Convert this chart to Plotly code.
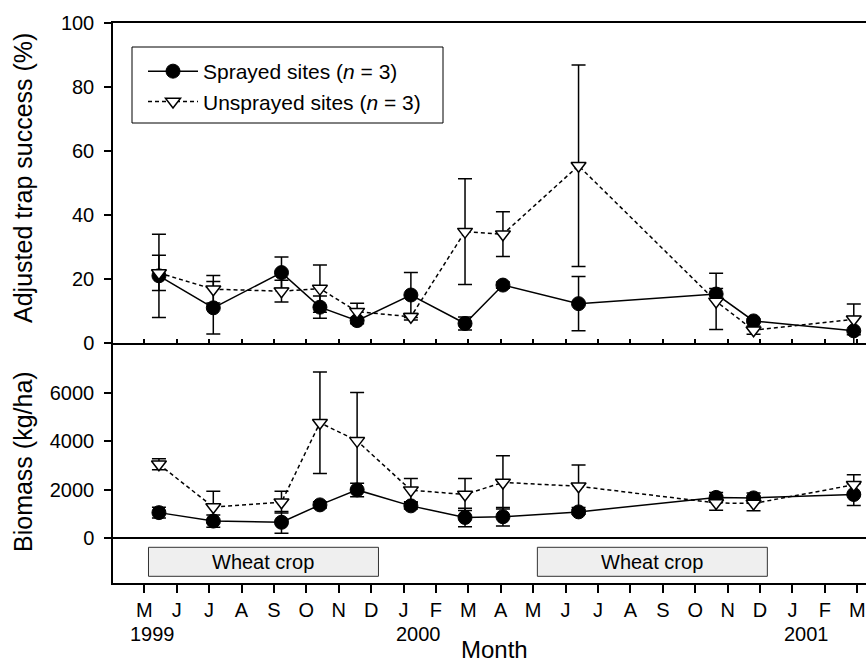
import calendar
import plotly.graph_objects as go

# ---------------- data ----------------
sample_dates = ["1999-05-15", "1999-07-05", "1999-09-08", "1999-10-14", "1999-11-18",
                "2000-01-08", "2000-02-27", "2000-04-03", "2000-06-13", "2000-10-21",
                "2000-11-25", "2001-02-26"]

sprayed_trap = [21, 11, 22, 11.2, 7, 15, 6.1, 18.1, 12.3, 15.3, 6.9, 3.8]
sprayed_trap_se = [13, 8.2, 4.9, 3.5, 1.0, 7, 2, 1, 8.5, 1.7, 0.6, 4.5]
unsprayed_trap = [21.9, 16.8, 16.2, 17, 9.8, 8.2, 34.8, 34, 55.4, 13, 4, 7.4]
unsprayed_trap_se = [5.5, 4.3, 3.4, 7.4, 2.6, 1.0, 16.5, 7, 31.5, 8.8, 1.3, 4.8]

sprayed_bio = [1050, 700, 650, 1370, 1990, 1330, 850, 880, 1080, 1680, 1660, 1800]
sprayed_bio_se = [220, 250, 450, 130, 280, 130, 380, 380, 100, 200, 200, 450]
unsprayed_bio = [3050, 1280, 1480, 4770, 4020, 1980, 1800, 2300, 2140, 1450, 1430, 2200]
unsprayed_bio_se = [230, 650, 450, 2100, 2000, 480, 660, 1100, 880, 300, 300, 420]

wheat_start = ["1999-05-05", "2000-05-05"]
wheat_end = ["1999-12-08", "2000-12-08"]
wheat_label = "Wheat crop"

tick_months = ["1999-05-01", "1999-06-01", "1999-07-01", "1999-08-01", "1999-09-01",
               "1999-10-01", "1999-11-01", "1999-12-01", "2000-01-01", "2000-02-01",
               "2000-03-01", "2000-04-01", "2000-05-01", "2000-06-01", "2000-07-01",
               "2000-08-01", "2000-09-01", "2000-10-01", "2000-11-01", "2000-12-01",
               "2001-01-01", "2001-02-01", "2001-03-01"]
tick_letters = ["M", "J", "J", "A", "S", "O", "N", "D", "J", "F", "M", "A", "M",
                "J", "J", "A", "S", "O", "N", "D", "J", "F", "M"]
year_labels = ["1999", "2000", "2001"]
year_pos = ["1999-05-09", "2000-01-15", "2001-01-14"]


def mi(d):
    """Month index since Jan 1999 (fractional within month)."""
    y, m, dd = map(int, d.split("-"))
    dim = calendar.monthrange(y, m)[1]
    return (y - 1999) * 12 + (m - 1) + (dd - 1) / dim


x = [mi(d) for d in sample_dates]
tickvals = [mi(d) for d in tick_months]

FONT = "Liberation Sans, Arial, sans-serif"
BLACK = "black"

fig = go.Figure()

err_style = dict(type="data", color=BLACK, thickness=1.5, width=7)

# top panel
fig.add_trace(go.Scatter(
    x=x, y=sprayed_trap, xaxis="x2", yaxis="y", mode="lines+markers",
    name="Sprayed sites (<i>n</i> = 3)",
    line=dict(color=BLACK, width=1.5),
    marker=dict(symbol="circle", size=14, color=BLACK, line=dict(color=BLACK, width=1)),
    error_y=dict(array=sprayed_trap_se, **err_style)))
fig.add_trace(go.Scatter(
    x=x, y=unsprayed_trap, xaxis="x2", yaxis="y", mode="lines+markers",
    name="Unsprayed sites (<i>n</i> = 3)",
    line=dict(color=BLACK, width=1.5, dash="4px,3px"),
    marker=dict(symbol="triangle-down", size=13, color="white", line=dict(color=BLACK, width=1.5)),
    error_y=dict(array=unsprayed_trap_se, **err_style)))

# bottom panel
fig.add_trace(go.Scatter(
    x=x, y=sprayed_bio, xaxis="x", yaxis="y2", mode="lines+markers", showlegend=False,
    line=dict(color=BLACK, width=1.5),
    marker=dict(symbol="circle", size=14, color=BLACK, line=dict(color=BLACK, width=1)),
    error_y=dict(array=sprayed_bio_se, **err_style)))
fig.add_trace(go.Scatter(
    x=x, y=unsprayed_bio, xaxis="x", yaxis="y2", mode="lines+markers", showlegend=False,
    line=dict(color=BLACK, width=1.5, dash="4px,3px"),
    marker=dict(symbol="triangle-down", size=13, color="white", line=dict(color=BLACK, width=1.5)),
    error_y=dict(array=unsprayed_bio_se, **err_style)))

W, H = 866, 664
L = 113


def py(p):
    return (H - p) / H


def px(p):
    return (p - L) / (W - L)


xr = [3.034, 26.27]

# wheat crop boxes
for s, e in zip(wheat_start, wheat_end):
    fig.add_shape(type="rect", xref="x", yref="y2", x0=mi(s), x1=mi(e), y0=-1585, y1=-385,
                  fillcolor="#efefef", line=dict(color="#333333", width=1), layer="above")
    fig.add_annotation(x=(mi(s) + mi(e)) / 2, y=-985, xref="x", yref="y2", text=wheat_label,
                       showarrow=False, font=dict(size=20, color=BLACK, family=FONT))

# legend frame
fig.add_shape(type="rect", xref="paper", yref="paper", x0=px(132), x1=px(443),
              y0=py(123), y1=py(47), fillcolor="white", line=dict(color=BLACK, width=1),
              layer="above")

# year labels
for lab, d in zip(year_labels, year_pos):
    fig.add_annotation(x=mi(d), y=py(634), xref="x", yref="paper", text=lab, showarrow=False,
                       xanchor="center", yanchor="middle", font=dict(size=20, color=BLACK, family=FONT))

# titles
fig.add_annotation(x=px(23), y=py(178), xref="paper", yref="paper", text="Adjusted trap success (%)",
                   textangle=-90, showarrow=False, xanchor="center", yanchor="middle",
                   font=dict(size=25, color=BLACK, family=FONT))
fig.add_annotation(x=px(23), y=py(462), xref="paper", yref="paper", text="Biomass (kg/ha)",
                   textangle=-90, showarrow=False, xanchor="center", yanchor="middle",
                   font=dict(size=25, color=BLACK, family=FONT))
fig.add_annotation(x=px(494), y=py(649), xref="paper", yref="paper", text="Month",
                   showarrow=False, xanchor="center", yanchor="middle",
                   font=dict(size=24, color=BLACK, family=FONT))

axis_common = dict(showline=True, linecolor=BLACK, linewidth=1.5, showgrid=False,
                   tickcolor=BLACK, tickwidth=1.5,
                   tickfont=dict(size=20, color=BLACK, family=FONT))

fig.update_layout(
    width=W, height=H,
    margin=dict(l=L, r=0, t=0, b=0, autoexpand=False),
    paper_bgcolor="white", plot_bgcolor="white",
    font=dict(family=FONT, color=BLACK),
    xaxis=dict(domain=[0, 1], anchor="y2", range=xr, tickmode="array", tickvals=tickvals,
               ticktext=tick_letters, ticks="outside", ticklen=8, zeroline=False,
               **axis_common),
    xaxis2=dict(domain=[0, 1], anchor="y", range=xr, matches="x", tickmode="array",
                tickvals=tickvals, showticklabels=False, ticks="inside", ticklen=4,
                mirror=True, zeroline=False, **axis_common),
    yaxis=dict(domain=[py(343), py(23)], anchor="x2", range=[0, 100], tickmode="array",
               tickvals=[0, 20, 40, 60, 80, 100], ticks="outside", ticklen=7,
               zeroline=False, ticklabelstandoff=6, **axis_common),
    yaxis2=dict(domain=[py(583), py(343)], anchor="x", range=[-1862, 8069], tickmode="array",
                tickvals=[0, 2000, 4000, 6000], ticks="outside", ticklen=7,
                zeroline=True, zerolinecolor=BLACK, zerolinewidth=1.5, ticklabelstandoff=6,
                **axis_common),
    legend=dict(x=px(143), y=py(51), xanchor="left", yanchor="top",
                bgcolor="rgba(0,0,0,0)", borderwidth=0,
                font=dict(size=21, color=BLACK, family=FONT), itemwidth=50,
                tracegroupgap=0),
    showlegend=True,
)

fig.write_html("out.html")
